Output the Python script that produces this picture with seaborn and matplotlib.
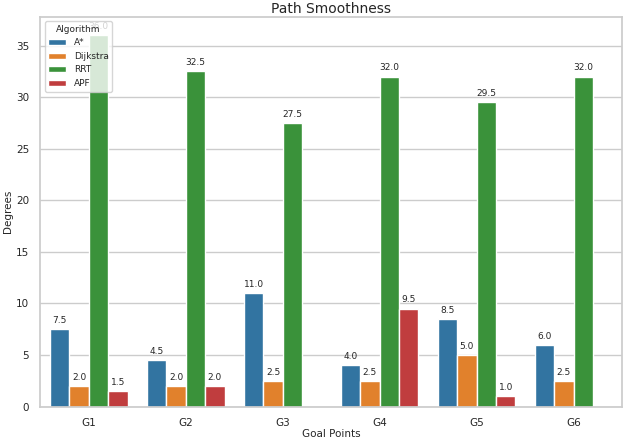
import numpy as np
import pandas as pd
import seaborn as sns
from matplotlib import pyplot as plt

goals = ["G1", "G2", "G3", "G4", "G5", "G6"]
algorithms = ["A*", "Dijkstra", "RRT", "APF"]
astar = [7.5, 4.5, 11.0, 4.0, 8.5, 6.0]
dijkstra = [2.0, 2.0, 2.5, 2.5, 5.0, 2.5]
rrt = [36.0, 32.5, 27.5, 32.0, 29.5, 32.0]
apf = [1.5, 2.0, np.nan, 9.5, 1.0, np.nan]

if __name__ == '__main__':
    data = pd.DataFrame({
        "Goal": np.tile(goals, 4),
        "Algorithm": np.repeat(algorithms, len(goals)),
        "Degrees": np.concatenate([astar, dijkstra, rrt, apf]),
    })

    sns.set_theme(style="whitegrid")
    fig, ax = plt.subplots(figsize=(6.29, 4.4), dpi=100)
    sns.barplot(data=data, x="Goal", y="Degrees", hue="Algorithm", palette="tab10", ax=ax)

    for cont in ax.containers:
        ax.bar_label(cont, fmt="%.1f", padding=3, fontsize=6.5)

    ax.set_title("Path Smoothness", fontsize=10, pad=3)
    ax.set_xlabel("Goal Points", fontsize=7.5, labelpad=1)
    ax.set_ylabel("Degrees", fontsize=7.5, labelpad=2)
    ax.tick_params(labelsize=7.5, pad=2)
    ax.legend(title="Algorithm", loc="upper left", fontsize=6.5, title_fontsize=6.5)

    fig.subplots_adjust(left=0.064, right=0.989, top=0.962, bottom=0.076)
    fig.savefig("out.png")
